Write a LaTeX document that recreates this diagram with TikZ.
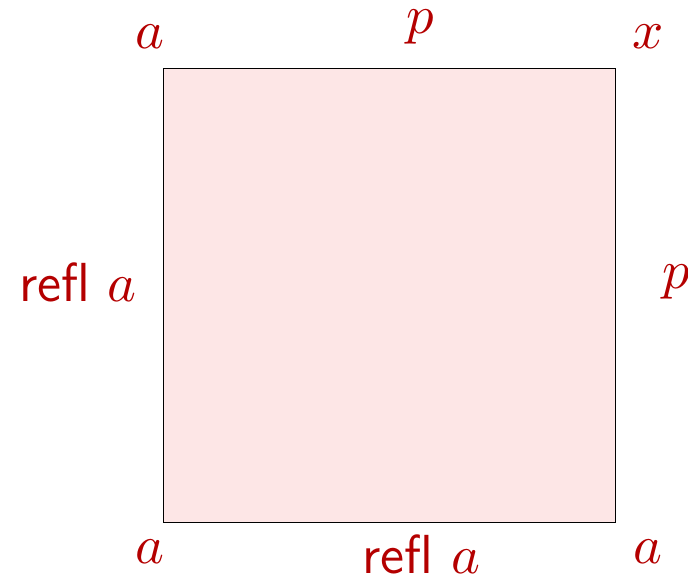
\documentclass[tikz,border=0pt]{standalone}
\usepackage{amsmath}
\usepackage{tikz}
\usetikzlibrary{positioning,calc}
\definecolor{lblred}{RGB}{180,0,0}
\definecolor{sqpink}{RGB}{253,230,230}

\begin{document}
\begin{tikzpicture}[
      lbl/.style={text=lblred, inner sep=0pt, font=\fontsize{11pt}{13pt}\selectfont},
      sq/.style={draw=black, fill=sqpink, line width=0.2pt}]
    \useasboundingbox (-1.146,-0.401) rectangle (3.691,3.67);
    \draw[sq] (0,0) rectangle (3.184,3.19);
    \node[lbl] (tl) at (-0.091,3.41) {$a$};
    \node[lbl] (top) at (1.807,3.48) {$p$};
    \node[lbl] (tr) at (3.41,3.41) {$x$};
    \node[lbl, anchor=base] (left) at (-0.598,1.547) {\textsf{refl} $a$};
    \node[lbl] (right) at (3.606,1.69) {$p$};
    \node[lbl] (bl) at (-0.091,-0.211) {$a$};
    \node[lbl, anchor=base] (bot) at (1.817,-0.359) {\textsf{refl} $a$};
    \node[lbl] (br) at (3.41,-0.211) {$a$};
  \end{tikzpicture}
\end{document}
